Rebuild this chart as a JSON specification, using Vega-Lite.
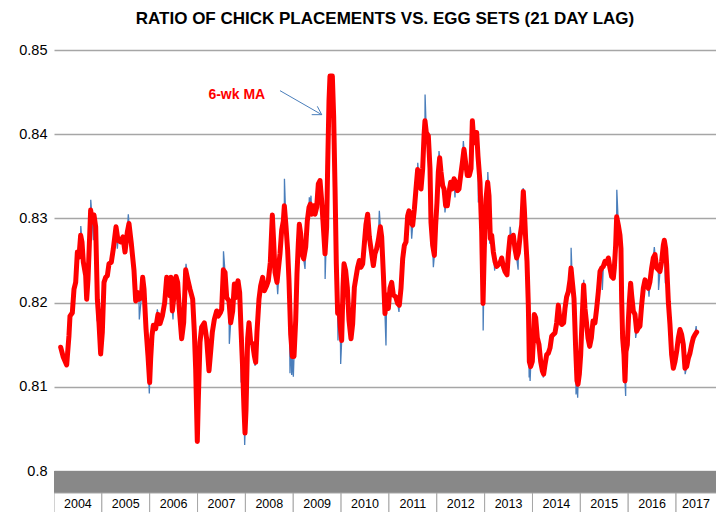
{
"$schema":"https://vega.github.io/schema/vega-lite/v6.json",
"padding":{"left":0,"top":10,"right":0,"bottom":0},
"background":"white",
"spacing":0,
"bounds":"flush",
"config":{"view":{"stroke":null},"concat":{"spacing":0}},
"datasets":{
"ser":[
{"t":2004.139,"v":0.8147,"k":"m"},{"t":2004.195,"v":0.8135,"k":"m"},{"t":2004.265,"v":0.8126,"k":"m"},{"t":2004.313,"v":0.8161,"k":"m"},{"t":2004.334,"v":0.8184,"k":"m"},{"t":2004.383,"v":0.8188,"k":"m"},{"t":2004.418,"v":0.8216,"k":"m"},{"t":2004.453,"v":0.8224,"k":"m"},{"t":2004.488,"v":0.8260,"k":"m"},{"t":2004.522,"v":0.8254,"k":"m"},{"t":2004.557,"v":0.8280,"k":"m"},{"t":2004.585,"v":0.8272,"k":"m"},{"t":2004.613,"v":0.8248,"k":"m"},{"t":2004.662,"v":0.8232,"k":"m"},{"t":2004.683,"v":0.8204,"k":"m"},{"t":2004.711,"v":0.8228,"k":"m"},{"t":2004.766,"v":0.8310,"k":"m"},{"t":2004.801,"v":0.8296,"k":"m"},{"t":2004.836,"v":0.8304,"k":"m"},{"t":2004.871,"v":0.8290,"k":"m"},{"t":2004.906,"v":0.8204,"k":"m"},{"t":2004.940,"v":0.8176,"k":"m"},{"t":2004.975,"v":0.8139,"k":"m"},{"t":2005.010,"v":0.8165,"k":"m"},{"t":2005.045,"v":0.8224,"k":"m"},{"t":2005.080,"v":0.8230,"k":"m"},{"t":2005.115,"v":0.8232,"k":"m"},{"t":2005.149,"v":0.8246,"k":"m"},{"t":2005.198,"v":0.8248,"k":"m"},{"t":2005.240,"v":0.8264,"k":"m"},{"t":2005.296,"v":0.8290,"k":"m"},{"t":2005.337,"v":0.8274,"k":"m"},{"t":2005.393,"v":0.8272,"k":"m"},{"t":2005.442,"v":0.8278,"k":"m"},{"t":2005.484,"v":0.8260,"k":"m"},{"t":2005.533,"v":0.8284,"k":"m"},{"t":2005.567,"v":0.8294,"k":"m"},{"t":2005.616,"v":0.8270,"k":"m"},{"t":2005.672,"v":0.8238,"k":"m"},{"t":2005.707,"v":0.8202,"k":"m"},{"t":2005.742,"v":0.8212,"k":"m"},{"t":2005.776,"v":0.8204,"k":"m"},{"t":2005.825,"v":0.8206,"k":"m"},{"t":2005.853,"v":0.8230,"k":"m"},{"t":2005.881,"v":0.8216,"k":"m"},{"t":2005.923,"v":0.8169,"k":"m"},{"t":2005.964,"v":0.8137,"k":"m"},{"t":2005.999,"v":0.8105,"k":"m"},{"t":2006.020,"v":0.8133,"k":"m"},{"t":2006.048,"v":0.8161,"k":"m"},{"t":2006.076,"v":0.8173,"k":"m"},{"t":2006.125,"v":0.8169,"k":"m"},{"t":2006.173,"v":0.8186,"k":"m"},{"t":2006.215,"v":0.8175,"k":"m"},{"t":2006.264,"v":0.8184,"k":"m"},{"t":2006.313,"v":0.8200,"k":"m"},
{"t":2006.355,"v":0.8230,"k":"m"},{"t":2006.389,"v":0.8228,"k":"m"},{"t":2006.424,"v":0.8208,"k":"m"},{"t":2006.445,"v":0.8230,"k":"m"},{"t":2006.473,"v":0.8190,"k":"m"},{"t":2006.508,"v":0.8208,"k":"m"},{"t":2006.550,"v":0.8231,"k":"m"},{"t":2006.584,"v":0.8224,"k":"m"},{"t":2006.619,"v":0.8192,"k":"m"},{"t":2006.668,"v":0.8157,"k":"m"},{"t":2006.710,"v":0.8176,"k":"m"},{"t":2006.752,"v":0.8239,"k":"m"},{"t":2006.793,"v":0.8228,"k":"m"},{"t":2006.842,"v":0.8216,"k":"m"},{"t":2006.898,"v":0.8204,"k":"m"},{"t":2006.933,"v":0.8165,"k":"m"},{"t":2006.961,"v":0.8121,"k":"m"},{"t":2006.995,"v":0.8035,"k":"m"},{"t":2007.016,"v":0.8085,"k":"m"},{"t":2007.051,"v":0.8153,"k":"m"},{"t":2007.086,"v":0.8171,"k":"m"},{"t":2007.142,"v":0.8176,"k":"m"},{"t":2007.190,"v":0.8157,"k":"m"},{"t":2007.239,"v":0.8119,"k":"m"},{"t":2007.267,"v":0.8137,"k":"m"},{"t":2007.309,"v":0.8165,"k":"m"},{"t":2007.351,"v":0.8180,"k":"m"},{"t":2007.400,"v":0.8190,"k":"m"},{"t":2007.434,"v":0.8184,"k":"m"},{"t":2007.476,"v":0.8188,"k":"m"},{"t":2007.504,"v":0.8192,"k":"m"},{"t":2007.539,"v":0.8239,"k":"m"},{"t":2007.574,"v":0.8236,"k":"m"},{"t":2007.609,"v":0.8206,"k":"m"},{"t":2007.657,"v":0.8202,"k":"m"},{"t":2007.692,"v":0.8176,"k":"m"},{"t":2007.734,"v":0.8190,"k":"m"},{"t":2007.769,"v":0.8222,"k":"m"},{"t":2007.804,"v":0.8206,"k":"m"},{"t":2007.845,"v":0.8226,"k":"m"},{"t":2007.880,"v":0.8212,"k":"m"},{"t":2007.908,"v":0.8169,"k":"m"},{"t":2007.943,"v":0.8121,"k":"m"},{"t":2007.971,"v":0.8073,"k":"m"},{"t":2007.992,"v":0.8045,"k":"m"},{"t":2008.013,"v":0.8073,"k":"m"},{"t":2008.047,"v":0.8157,"k":"m"},{"t":2008.075,"v":0.8176,"k":"m"},{"t":2008.110,"v":0.8153,"k":"m"},{"t":2008.152,"v":0.8151,"k":"m"},{"t":2008.187,"v":0.8137,"k":"m"},{"t":2008.215,"v":0.8129,"k":"m"},{"t":2008.242,"v":0.8165,"k":"m"},{"t":2008.284,"v":0.8204,"k":"m"},{"t":2008.319,"v":0.8220,"k":"m"},{"t":2008.361,"v":0.8230,"k":"m"},{"t":2008.396,"v":0.8214,"k":"m"},{"t":2008.444,"v":0.8220,"k":"m"},{"t":2008.479,"v":0.8226,"k":"m"},{"t":2008.521,"v":0.8248,"k":"m"},{"t":2008.563,"v":0.8304,"k":"m"},{"t":2008.591,"v":0.8272,"k":"m"},{"t":2008.619,"v":0.8236,"k":"m"},{"t":2008.660,"v":0.8224,"k":"m"},
{"t":2008.723,"v":0.8258,"k":"m"},{"t":2008.758,"v":0.8286,"k":"m"},{"t":2008.793,"v":0.8297,"k":"m"},{"t":2008.814,"v":0.8315,"k":"m"},{"t":2008.849,"v":0.8290,"k":"m"},{"t":2008.883,"v":0.8262,"k":"m"},{"t":2008.911,"v":0.8226,"k":"m"},{"t":2008.946,"v":0.8163,"k":"m"},{"t":2008.981,"v":0.8136,"k":"m"},{"t":2009.016,"v":0.8136,"k":"m"},{"t":2009.051,"v":0.8179,"k":"m"},{"t":2009.078,"v":0.8234,"k":"m"},{"t":2009.106,"v":0.8270,"k":"m"},{"t":2009.127,"v":0.8293,"k":"m"},{"t":2009.155,"v":0.8282,"k":"m"},{"t":2009.183,"v":0.8258,"k":"m"},{"t":2009.218,"v":0.8252,"k":"m"},{"t":2009.260,"v":0.8266,"k":"m"},{"t":2009.294,"v":0.8297,"k":"m"},{"t":2009.329,"v":0.8313,"k":"m"},{"t":2009.357,"v":0.8317,"k":"m"},{"t":2009.385,"v":0.8305,"k":"m"},{"t":2009.427,"v":0.8315,"k":"m"},{"t":2009.455,"v":0.8305,"k":"m"},{"t":2009.489,"v":0.8313,"k":"m"},{"t":2009.524,"v":0.8341,"k":"m"},{"t":2009.559,"v":0.8345,"k":"m"},{"t":2009.594,"v":0.8321,"k":"m"},{"t":2009.629,"v":0.8290,"k":"m"},{"t":2009.664,"v":0.8258,"k":"m"},{"t":2009.698,"v":0.8290,"k":"m"},{"t":2009.719,"v":0.8361,"k":"m"},{"t":2009.747,"v":0.8439,"k":"m"},{"t":2009.768,"v":0.8469,"k":"m"},{"t":2009.817,"v":0.8469,"k":"m"},{"t":2009.845,"v":0.8420,"k":"m"},{"t":2009.873,"v":0.8337,"k":"m"},{"t":2009.900,"v":0.8246,"k":"m"},{"t":2009.928,"v":0.8187,"k":"m"},{"t":2009.956,"v":0.8195,"k":"m"},{"t":2009.984,"v":0.8171,"k":"m"},{"t":2010.012,"v":0.8155,"k":"m"},{"t":2010.040,"v":0.8218,"k":"m"},{"t":2010.061,"v":0.8246,"k":"m"},{"t":2010.095,"v":0.8238,"k":"m"},{"t":2010.130,"v":0.8218,"k":"m"},{"t":2010.165,"v":0.8179,"k":"m"},{"t":2010.207,"v":0.8157,"k":"m"},{"t":2010.242,"v":0.8175,"k":"m"},{"t":2010.277,"v":0.8218,"k":"m"},{"t":2010.311,"v":0.8230,"k":"m"},{"t":2010.346,"v":0.8242,"k":"m"},{"t":2010.381,"v":0.8250,"k":"m"},{"t":2010.416,"v":0.8242,"k":"m"},{"t":2010.451,"v":0.8246,"k":"m"},{"t":2010.486,"v":0.8270,"k":"m"},{"t":2010.520,"v":0.8293,"k":"m"},{"t":2010.555,"v":0.8305,"k":"m"},{"t":2010.590,"v":0.8278,"k":"m"},{"t":2010.639,"v":0.8258,"k":"m"},{"t":2010.674,"v":0.8244,"k":"m"},{"t":2010.708,"v":0.8258,"k":"m"},{"t":2010.743,"v":0.8264,"k":"m"},{"t":2010.778,"v":0.8274,"k":"m"},{"t":2010.820,"v":0.8290,"k":"m"},{"t":2010.848,"v":0.8278,"k":"m"},{"t":2010.883,"v":0.8234,"k":"m"},{"t":2010.917,"v":0.8187,"k":"m"},
{"t":2010.952,"v":0.8209,"k":"m"},{"t":2010.987,"v":0.8193,"k":"m"},{"t":2011.022,"v":0.8217,"k":"m"},{"t":2011.057,"v":0.8224,"k":"m"},{"t":2011.092,"v":0.8209,"k":"m"},{"t":2011.140,"v":0.8207,"k":"m"},{"t":2011.182,"v":0.8199,"k":"m"},{"t":2011.217,"v":0.8197,"k":"m"},{"t":2011.252,"v":0.8217,"k":"m"},{"t":2011.287,"v":0.8252,"k":"m"},{"t":2011.322,"v":0.8268,"k":"m"},{"t":2011.356,"v":0.8272,"k":"m"},{"t":2011.391,"v":0.8303,"k":"m"},{"t":2011.419,"v":0.8309,"k":"m"},{"t":2011.461,"v":0.8295,"k":"m"},{"t":2011.496,"v":0.8292,"k":"m"},{"t":2011.531,"v":0.8311,"k":"m"},{"t":2011.565,"v":0.8335,"k":"m"},{"t":2011.600,"v":0.8358,"k":"m"},{"t":2011.635,"v":0.8339,"k":"m"},{"t":2011.670,"v":0.8335,"k":"m"},{"t":2011.705,"v":0.8359,"k":"m"},{"t":2011.733,"v":0.8398,"k":"m"},{"t":2011.753,"v":0.8416,"k":"m"},{"t":2011.781,"v":0.8402,"k":"m"},{"t":2011.823,"v":0.8398,"k":"m"},{"t":2011.858,"v":0.8359,"k":"m"},{"t":2011.879,"v":0.8295,"k":"m"},{"t":2011.914,"v":0.8268,"k":"m"},{"t":2011.949,"v":0.8256,"k":"m"},{"t":2011.976,"v":0.8292,"k":"m"},{"t":2012.004,"v":0.8319,"k":"m"},{"t":2012.032,"v":0.8355,"k":"m"},{"t":2012.060,"v":0.8372,"k":"m"},{"t":2012.088,"v":0.8355,"k":"m"},{"t":2012.123,"v":0.8339,"k":"m"},{"t":2012.151,"v":0.8335,"k":"m"},{"t":2012.185,"v":0.8315,"k":"m"},{"t":2012.220,"v":0.8315,"k":"m"},{"t":2012.255,"v":0.8331,"k":"m"},{"t":2012.290,"v":0.8343,"k":"m"},{"t":2012.325,"v":0.8335,"k":"m"},{"t":2012.360,"v":0.8347,"k":"m"},{"t":2012.394,"v":0.8343,"k":"m"},{"t":2012.429,"v":0.8333,"k":"m"},{"t":2012.464,"v":0.8335,"k":"m"},{"t":2012.499,"v":0.8351,"k":"m"},{"t":2012.534,"v":0.8366,"k":"m"},{"t":2012.568,"v":0.8382,"k":"m"},{"t":2012.603,"v":0.8366,"k":"m"},{"t":2012.638,"v":0.8351,"k":"m"},{"t":2012.680,"v":0.8351,"k":"m"},{"t":2012.715,"v":0.8359,"k":"m"},{"t":2012.743,"v":0.8416,"k":"m"},{"t":2012.771,"v":0.8394,"k":"m"},{"t":2012.798,"v":0.8390,"k":"m"},{"t":2012.833,"v":0.8402,"k":"m"},{"t":2012.861,"v":0.8374,"k":"m"},{"t":2012.903,"v":0.8343,"k":"m"},{"t":2012.938,"v":0.8284,"k":"m"},{"t":2012.966,"v":0.8199,"k":"m"},{"t":2012.993,"v":0.8264,"k":"m"},{"t":2013.028,"v":0.8323,"k":"m"},{"t":2013.063,"v":0.8343,"k":"m"},{"t":2013.091,"v":0.8327,"k":"m"},{"t":2013.119,"v":0.8276,"k":"m"},{"t":2013.147,"v":0.8280,"k":"m"},{"t":2013.182,"v":0.8260,"k":"m"},
{"t":2013.216,"v":0.8249,"k":"m"},{"t":2013.251,"v":0.8243,"k":"m"},{"t":2013.286,"v":0.8245,"k":"m"},{"t":2013.321,"v":0.8247,"k":"m"},{"t":2013.356,"v":0.8253,"k":"m"},{"t":2013.390,"v":0.8243,"k":"m"},{"t":2013.425,"v":0.8237,"k":"m"},{"t":2013.467,"v":0.8233,"k":"m"},{"t":2013.495,"v":0.8257,"k":"m"},{"t":2013.530,"v":0.8278,"k":"m"},{"t":2013.565,"v":0.8274,"k":"m"},{"t":2013.599,"v":0.8280,"k":"m"},{"t":2013.634,"v":0.8264,"k":"m"},{"t":2013.669,"v":0.8253,"k":"m"},{"t":2013.704,"v":0.8259,"k":"m"},{"t":2013.739,"v":0.8278,"k":"m"},{"t":2013.774,"v":0.8292,"k":"m"},{"t":2013.808,"v":0.8332,"k":"m"},{"t":2013.829,"v":0.8312,"k":"m"},{"t":2013.857,"v":0.8276,"k":"m"},{"t":2013.885,"v":0.8249,"k":"m"},{"t":2013.913,"v":0.8197,"k":"m"},{"t":2013.934,"v":0.8130,"k":"m"},{"t":2013.962,"v":0.8124,"k":"m"},{"t":2013.996,"v":0.8130,"k":"m"},{"t":2014.017,"v":0.8154,"k":"m"},{"t":2014.038,"v":0.8186,"k":"m"},{"t":2014.066,"v":0.8182,"k":"m"},{"t":2014.101,"v":0.8158,"k":"m"},{"t":2014.136,"v":0.8150,"k":"m"},{"t":2014.171,"v":0.8130,"k":"m"},{"t":2014.206,"v":0.8119,"k":"m"},{"t":2014.233,"v":0.8115,"k":"m"},{"t":2014.261,"v":0.8126,"k":"m"},{"t":2014.296,"v":0.8138,"k":"m"},{"t":2014.331,"v":0.8140,"k":"m"},{"t":2014.366,"v":0.8146,"k":"m"},{"t":2014.401,"v":0.8160,"k":"m"},{"t":2014.435,"v":0.8162,"k":"m"},{"t":2014.470,"v":0.8164,"k":"m"},{"t":2014.505,"v":0.8176,"k":"m"},{"t":2014.540,"v":0.8197,"k":"m"},{"t":2014.575,"v":0.8178,"k":"m"},{"t":2014.610,"v":0.8174,"k":"m"},{"t":2014.651,"v":0.8176,"k":"m"},{"t":2014.679,"v":0.8193,"k":"m"},{"t":2014.714,"v":0.8207,"k":"m"},{"t":2014.749,"v":0.8213,"k":"m"},{"t":2014.784,"v":0.8227,"k":"m"},{"t":2014.805,"v":0.8241,"k":"m"},{"t":2014.832,"v":0.8225,"k":"m"},{"t":2014.867,"v":0.8205,"k":"m"},{"t":2014.902,"v":0.8146,"k":"m"},{"t":2014.930,"v":0.8107,"k":"m"},{"t":2014.951,"v":0.8103,"k":"m"},{"t":2014.979,"v":0.8115,"k":"m"},{"t":2015.007,"v":0.8138,"k":"m"},{"t":2015.041,"v":0.8186,"k":"m"},{"t":2015.069,"v":0.8221,"k":"m"},{"t":2015.097,"v":0.8193,"k":"m"},{"t":2015.125,"v":0.8178,"k":"m"},{"t":2015.160,"v":0.8158,"k":"m"},{"t":2015.195,"v":0.8148,"k":"m"},{"t":2015.230,"v":0.8158,"k":"m"},{"t":2015.264,"v":0.8178,"k":"m"},{"t":2015.306,"v":0.8176,"k":"m"},{"t":2015.341,"v":0.8193,"k":"m"},{"t":2015.376,"v":0.8213,"k":"m"},{"t":2015.411,"v":0.8237,"k":"m"},{"t":2015.445,"v":0.8241,"k":"m"},{"t":2015.480,"v":0.8243,"k":"m"},
{"t":2015.515,"v":0.8249,"k":"m"},{"t":2015.550,"v":0.8247,"k":"m"},{"t":2015.585,"v":0.8253,"k":"m"},{"t":2015.619,"v":0.8241,"k":"m"},{"t":2015.654,"v":0.8231,"k":"m"},{"t":2015.689,"v":0.8229,"k":"m"},{"t":2015.710,"v":0.8241,"k":"m"},{"t":2015.738,"v":0.8268,"k":"m"},{"t":2015.759,"v":0.8302,"k":"m"},{"t":2015.794,"v":0.8292,"k":"m"},{"t":2015.828,"v":0.8280,"k":"m"},{"t":2015.849,"v":0.8264,"k":"m"},{"t":2015.863,"v":0.8205,"k":"m"},{"t":2015.884,"v":0.8158,"k":"m"},{"t":2015.912,"v":0.8138,"k":"m"},{"t":2015.933,"v":0.8107,"k":"m"},{"t":2015.954,"v":0.8142,"k":"m"},{"t":2015.982,"v":0.8150,"k":"m"},{"t":2016.003,"v":0.8178,"k":"m"},{"t":2016.024,"v":0.8201,"k":"m"},{"t":2016.051,"v":0.8223,"k":"m"},{"t":2016.072,"v":0.8209,"k":"m"},{"t":2016.107,"v":0.8190,"k":"m"},{"t":2016.142,"v":0.8186,"k":"m"},{"t":2016.177,"v":0.8166,"k":"m"},{"t":2016.212,"v":0.8170,"k":"m"},{"t":2016.246,"v":0.8172,"k":"m"},{"t":2016.281,"v":0.8197,"k":"m"},{"t":2016.316,"v":0.8217,"k":"m"},{"t":2016.351,"v":0.8227,"k":"m"},{"t":2016.386,"v":0.8221,"k":"m"},{"t":2016.421,"v":0.8217,"k":"m"},{"t":2016.455,"v":0.8225,"k":"m"},{"t":2016.490,"v":0.8241,"k":"m"},{"t":2016.525,"v":0.8253,"k":"m"},{"t":2016.560,"v":0.8257,"k":"m"},{"t":2016.595,"v":0.8241,"k":"m"},{"t":2016.630,"v":0.8239,"k":"m"},{"t":2016.664,"v":0.8237,"k":"m"},{"t":2016.699,"v":0.8249,"k":"m"},{"t":2016.734,"v":0.8268,"k":"m"},{"t":2016.755,"v":0.8274,"k":"m"},{"t":2016.783,"v":0.8264,"k":"m"},{"t":2016.804,"v":0.8245,"k":"m"},{"t":2016.839,"v":0.8201,"k":"m"},{"t":2016.873,"v":0.8174,"k":"m"},{"t":2016.908,"v":0.8138,"k":"m"},{"t":2016.943,"v":0.8122,"k":"m"},{"t":2016.978,"v":0.8130,"k":"m"},{"t":2017.013,"v":0.8142,"k":"m"},{"t":2017.048,"v":0.8158,"k":"m"},{"t":2017.082,"v":0.8168,"k":"m"},{"t":2017.117,"v":0.8162,"k":"m"},{"t":2017.152,"v":0.8150,"k":"m"},{"t":2017.187,"v":0.8122,"k":"m"},{"t":2017.222,"v":0.8124,"k":"m"},{"t":2017.257,"v":0.8134,"k":"m"},{"t":2017.291,"v":0.8140,"k":"m"},{"t":2017.326,"v":0.8150,"k":"m"},{"t":2017.361,"v":0.8158,"k":"m"},{"t":2017.396,"v":0.8162,"k":"m"},{"t":2017.431,"v":0.8165,"k":"m"},
{"t":2004.560,"v":0.8291,"k":"s"},{"t":2004.768,"v":0.8322,"k":"s"},{"t":2004.822,"v":0.8274,"k":"s"},{"t":2004.903,"v":0.8178,"k":"s"},{"t":2005.324,"v":0.8264,"k":"s"},{"t":2005.553,"v":0.8305,"k":"s"},{"t":2005.783,"v":0.8180,"k":"s"},{"t":2005.992,"v":0.8092,"k":"s"},{"t":2006.160,"v":0.8192,"k":"s"},{"t":2006.487,"v":0.8180,"k":"s"},{"t":2006.759,"v":0.8246,"k":"s"},{"t":2007.542,"v":0.8261,"k":"s"},{"t":2007.664,"v":0.8151,"k":"s"},{"t":2007.910,"v":0.8105,"k":"s"},{"t":2007.985,"v":0.8031,"k":"s"},{"t":2008.200,"v":0.8125,"k":"s"},{"t":2008.675,"v":0.8210,"k":"s"},{"t":2008.816,"v":0.8347,"k":"s"},{"t":2008.932,"v":0.8116,"k":"s"},{"t":2008.967,"v":0.8114,"k":"s"},{"t":2009.002,"v":0.8112,"k":"s"},{"t":2009.246,"v":0.8240,"k":"s"},{"t":2009.336,"v":0.8325,"k":"s"},{"t":2009.371,"v":0.8327,"k":"s"},{"t":2009.666,"v":0.8228,"k":"s"},{"t":2009.935,"v":0.8155,"k":"s"},{"t":2009.991,"v":0.8127,"k":"s"},{"t":2010.799,"v":0.8309,"k":"s"},{"t":2010.938,"v":0.8149,"k":"s"},{"t":2011.210,"v":0.8189,"k":"s"},{"t":2011.475,"v":0.8276,"k":"s"},{"t":2011.602,"v":0.8366,"k":"s"},{"t":2011.755,"v":0.8447,"k":"s"},{"t":2011.928,"v":0.8242,"k":"s"},{"t":2012.046,"v":0.8380,"k":"s"},{"t":2012.171,"v":0.8307,"k":"s"},{"t":2012.380,"v":0.8325,"k":"s"},{"t":2012.555,"v":0.8392,"k":"s"},{"t":2012.868,"v":0.8319,"k":"s"},{"t":2012.969,"v":0.8167,"k":"s"},{"t":2013.066,"v":0.8355,"k":"s"},{"t":2013.105,"v":0.8270,"k":"s"},{"t":2013.210,"v":0.8238,"k":"s"},{"t":2013.533,"v":0.8290,"k":"s"},{"t":2013.700,"v":0.8239,"k":"s"},{"t":2013.805,"v":0.8336,"k":"s"},{"t":2013.860,"v":0.8237,"k":"s"},{"t":2013.930,"v":0.8111,"k":"s"},{"t":2013.950,"v":0.8107,"k":"s"},{"t":2014.228,"v":0.8111,"k":"s"},{"t":2014.807,"v":0.8265,"k":"s"},{"t":2014.910,"v":0.8091,"k":"s"},{"t":2014.944,"v":0.8087,"k":"s"},{"t":2015.071,"v":0.8227,"k":"s"},{"t":2015.460,"v":0.8215,"k":"s"},{"t":2015.762,"v":0.8334,"k":"s"},{"t":2015.866,"v":0.8154,"k":"s"},{"t":2015.898,"v":0.8122,"k":"s"},{"t":2015.947,"v":0.8089,"k":"s"},{"t":2016.156,"v":0.8158,"k":"s"},{"t":2016.435,"v":0.8207,"k":"s"},{"t":2016.546,"v":0.8266,"k":"s"},{"t":2016.634,"v":0.8215,"k":"s"},{"t":2016.776,"v":0.8223,"k":"s"},{"t":2017.190,"v":0.8115,"k":"s"},{"t":2017.420,"v":0.8172,"k":"s"}
],
"years":[
{"r":"a","s":2004,"e":2018,"m":2011,"lab":""},
{"r":"b","s":2004,"e":2005,"m":2004.5,"lab":"2004"},{"r":"b","s":2005,"e":2006,"m":2005.5,"lab":"2005"},{"r":"b","s":2006,"e":2007,"m":2006.5,"lab":"2006"},{"r":"b","s":2007,"e":2008,"m":2007.5,"lab":"2007"},{"r":"b","s":2008,"e":2009,"m":2008.5,"lab":"2008"},{"r":"b","s":2009,"e":2010,"m":2009.5,"lab":"2009"},{"r":"b","s":2010,"e":2011,"m":2010.5,"lab":"2010"},{"r":"b","s":2011,"e":2012,"m":2011.5,"lab":"2011"},{"r":"b","s":2012,"e":2013,"m":2012.5,"lab":"2012"},{"r":"b","s":2013,"e":2014,"m":2013.5,"lab":"2013"},{"r":"b","s":2014,"e":2015,"m":2014.5,"lab":"2014"},{"r":"b","s":2015,"e":2016,"m":2015.5,"lab":"2015"},{"r":"b","s":2016,"e":2017,"m":2016.5,"lab":"2016"},{"r":"b","s":2017,"e":2018,"m":2017.417,"lab":"2017"}
]
},
"vconcat":[
{
"width":662,"height":421,
"title":{"text":"RATIO OF CHICK PLACEMENTS VS. EGG SETS (21 DAY LAG)","anchor":"middle","frame":"group","font":"Liberation Sans","fontSize":17,"fontWeight":"bold","color":"#000000","offset":14},
"layer":[
{"data":{"name":"ser"},"mark":{"type":"line","color":"#4a7ebb","strokeWidth":1.3},
"encoding":{"x":{"field":"t","type":"quantitative","scale":{"domain":[2004,2017.835],"nice":false,"zero":false},"axis":null},
"y":{"field":"v","type":"quantitative","scale":{"domain":[0.8,0.85],"nice":false,"zero":false},
"axis":{"values":[0.8,0.81,0.82,0.83,0.84,0.85],"format":".2~f","domain":false,"ticks":false,"grid":true,"gridColor":"#a6a6a6","gridWidth":1.5,"labelFont":"Liberation Sans","labelFontSize":14.5,"labelColor":"#000000","labelPadding":7,"minExtent":54,"maxExtent":54,"title":null}}}},
{"data":{"name":"ser"},"transform":[{"filter":{"field":"k","equal":"m"}}],"mark":{"type":"line","color":"#ff0000","strokeWidth":5,"strokeJoin":"round","strokeCap":"round"},
"encoding":{"x":{"field":"t","type":"quantitative"},"y":{"field":"v","type":"quantitative"}}},
{"data":{"values":[{"t":2008.723,"v":0.84517,"t2":2009.595,"v2":0.84232},{"t":2009.386,"v":0.84232,"t2":2009.595,"v2":0.84232},{"t":2009.503,"v":0.84331,"t2":2009.595,"v2":0.84232}]},
"mark":{"type":"rule","color":"#4a7ebb","strokeWidth":1},
"encoding":{"x":{"field":"t","type":"quantitative"},"y":{"field":"v","type":"quantitative"},"x2":{"field":"t2"},"y2":{"field":"v2"}}},
{"data":{"values":[{"t":2007.82,"v":0.84466,"label":"6-wk MA"}]},
"mark":{"type":"text","color":"#ff0000","font":"Liberation Sans","fontSize":14,"fontWeight":"bold"},
"encoding":{"x":{"field":"t","type":"quantitative"},"y":{"field":"v","type":"quantitative"},"text":{"field":"label"}}}
]
},
{
"width":662,"height":44,
"data":{"name":"years"},
"encoding":{"y":{"field":"r","type":"nominal","scale":{"domain":["a","b"],"paddingInner":0,"paddingOuter":0},"axis":null}},
"layer":[
{"transform":[{"filter":{"field":"r","equal":"a"}}],"mark":{"type":"rect","clip":true,"fill":"#888888"},
"encoding":{"x":{"field":"s","type":"quantitative","scale":{"domain":[2004,2017.835],"nice":false,"zero":false},"axis":null},"x2":{"field":"e"}}},
{"transform":[{"filter":{"field":"r","equal":"b"}}],"mark":{"type":"rect","clip":true,"fill":"#ffffff","stroke":"#a6a6a6","strokeWidth":1},
"encoding":{"x":{"field":"s","type":"quantitative"},"x2":{"field":"e"}}},
{"transform":[{"filter":{"field":"r","equal":"b"}}],"mark":{"type":"text","font":"Liberation Sans","fontSize":12.5,"color":"#000000"},
"encoding":{"x":{"field":"m","type":"quantitative"},"text":{"field":"lab"}}}
]
}
]
}
